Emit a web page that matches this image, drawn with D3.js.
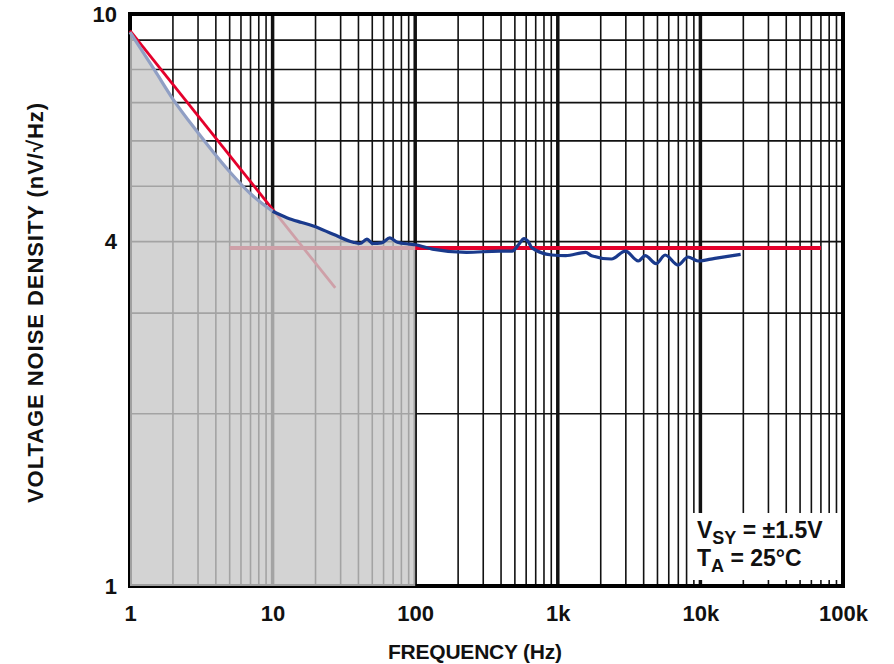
<!DOCTYPE html>
<html>
<head>
<meta charset="utf-8">
<script src="https://cdn.jsdelivr.net/npm/d3@7"></script>
<style>
  body { margin: 0; background: #fff; }
  text { font-family: "Liberation Sans", Arial, sans-serif; font-weight: bold; fill: #111; }
</style>
</head>
<body>
<div id="chart"></div>
<script>
// tick labels
var freqTicks = [1, 10, 100, 1000, 10000, 100000];
var freqTickLabels = ["1", "10", "100", "1k", "10k", "100k"];
var noiseTicks = [1, 4, 10];
var noiseTickLabels = ["1", "4", "10"];

// measured noise curve (Hz, nV/rtHz)
var noiseFreq = [1, 1.5, 2, 3, 5, 7, 10, 12.7, 16, 19.3, 26.6, 36.7, 41, 45.9, 50.5, 58, 66.4, 75, 91.5, 100,
  132, 229, 388, 478, 530, 580, 620, 659, 908, 1137, 1567, 1726, 2378, 2978, 3667, 4102, 4894, 5657, 6970,
  8183, 9613, 12620, 19150];
var noiseVal = [9.3, 7.95, 7.1, 6.2, 5.3, 4.85, 4.52, 4.40, 4.32, 4.26, 4.12, 3.99, 3.97, 4.04, 3.97, 3.98, 4.06, 3.99, 3.96, 3.95,
  3.88, 3.83, 3.85, 3.85, 3.95, 4.05, 4.0, 3.90, 3.79, 3.78, 3.83, 3.78, 3.73, 3.85, 3.70, 3.78, 3.66, 3.79, 3.64,
  3.76, 3.70, 3.74, 3.80];

// 1/f asymptote and white noise level
var fitFreq = [1, 27.5];
var fitVal = [9.35, 3.32];
var flatFreq = [5, 70000];
var flatVal = [3.9, 3.9];

// shaded band upper frequency
var shadeMaxFreq = 100;

var legendLines = [["V", "SY", " = \u00b11.5V"], ["T", "A", " = 25\u00b0C"]];

function draw_noise_chart(chartId)
{
let width = 894, height = 664;
let margin = {top: 14, right: 51, bottom: 78, left: 130};

let svg = d3.select(`#${chartId}`)
  .append("svg")
  .attr("width", width)
  .attr("height", height);

var x = d3.scaleLog().domain([1, 100000]).range([margin.left, width - margin.right]);
var y = d3.scaleLog().domain([1, 10]).range([height - margin.bottom, margin.top]);

let decades = freqTicks;

// vertical grid
svg.append("g")
  .selectAll("line")
  .data(x.ticks())
  .enter()
  .append("line")
  .attr("x1", d => x(d)).attr("x2", d => x(d))
  .attr("y1", y(10)).attr("y2", y(1))
  .attr("stroke", "#111")
  .attr("stroke-width", d => decades.indexOf(d) >= 0 ? 3.5 : 1.6);

// horizontal grid
svg.append("g")
  .selectAll("line")
  .data(y.ticks())
  .enter()
  .append("line")
  .attr("x1", x(1)).attr("x2", x(100000))
  .attr("y1", d => y(d)).attr("y2", d => y(d))
  .attr("stroke", "#111")
  .attr("stroke-width", 1.6);

// legend box blanks the grid
svg.append("rect")
  .attr("x", 692).attr("y", 513)
  .attr("width", x(100000) - 692).attr("height", 67)
  .attr("fill", "#fff");

// frame
svg.append("rect")
  .attr("x", x(1)).attr("y", y(10))
  .attr("width", x(100000) - x(1))
  .attr("height", y(1) - y(10))
  .attr("fill", "none")
  .attr("stroke", "#000")
  .attr("stroke-width", 4);

let pts = noiseFreq.map((f, i) => [f, noiseVal[i]]);

let line = d3.line()
  .x(d => x(d[0]))
  .y(d => y(d[1]))
  .curve(d3.curveMonotoneX);

// asymptotes
svg.append("path")
  .datum(fitFreq.map((f, i) => [f, fitVal[i]]))
  .attr("d", d3.line().x(d => x(d[0])).y(d => y(d[1])))
  .attr("fill", "none")
  .attr("stroke", "#e4002b")
  .attr("stroke-width", 2.8);

svg.append("path")
  .datum(flatFreq.map((f, i) => [f, flatVal[i]]))
  .attr("d", d3.line().x(d => x(d[0])).y(d => y(d[1])))
  .attr("fill", "none")
  .attr("stroke", "#e4002b")
  .attr("stroke-width", 4);

// shaded area under the curve
let area = d3.area()
  .x(d => x(d[0]))
  .y0(y(1))
  .y1(d => y(d[1]))
  .curve(d3.curveMonotoneX);

svg.append("path")
  .datum(pts.filter(d => d[0] <= shadeMaxFreq))
  .attr("d", area)
  .attr("fill", "#c8c8c8")
  .attr("fill-opacity", 0.8);

// low part of the curve looks faded through the shading
svg.append("path")
  .datum(pts.filter(d => d[0] <= 10))
  .attr("d", line)
  .attr("fill", "none")
  .attr("stroke", "#909fc4")
  .attr("stroke-width", 3.2);

svg.append("path")
  .datum(pts.filter(d => d[0] >= 10))
  .attr("d", line)
  .attr("fill", "none")
  .attr("stroke", "#1a3a8c")
  .attr("stroke-width", 3.2)
  .attr("stroke-linejoin", "round");

// axes
let xAxis = svg.append("g")
  .attr("transform", "translate(0," + y(1) + ")")
  .call(d3.axisBottom(x).tickValues(freqTicks).tickFormat((d, i) => freqTickLabels[i]).tickSize(0).tickPadding(19));
xAxis.select(".domain").remove();
xAxis.selectAll("text").attr("font-size", 22).style("font-family", "Liberation Sans, Arial").style("font-weight", "bold").attr("fill", "#111");

let yAxis = svg.append("g")
  .attr("transform", "translate(" + x(1) + ",0)")
  .call(d3.axisLeft(y).tickValues(noiseTicks).tickFormat((d, i) => noiseTickLabels[i]).tickSize(0).tickPadding(13));
yAxis.select(".domain").remove();
yAxis.selectAll("text").attr("font-size", 22).style("font-family", "Liberation Sans, Arial").style("font-weight", "bold").attr("fill", "#111");

// titles
svg.append("text")
  .attr("x", 475).attr("y", 659)
  .attr("text-anchor", "middle")
  .attr("font-size", 21)
  .attr("textLength", 174)
  .text("FREQUENCY (Hz)");

svg.append("text")
  .attr("transform", "translate(43,303) rotate(-90)")
  .attr("text-anchor", "middle")
  .attr("font-size", 22)
  .attr("textLength", 400)
  .text("VOLTAGE NOISE DENSITY (nV/\u221aHz)");

// conditions
legendLines.forEach(function (l, i) {
  let t = svg.append("text")
    .attr("x", 697).attr("y", 538 + i * 28)
    .attr("font-size", 23);
  t.append("tspan").text(l[0]);
  t.append("tspan").attr("dy", 6).attr("font-size", 18).text(l[1]);
  t.append("tspan").attr("dy", -6).text(l[2]);
});
}

draw_noise_chart("chart");
</script>
</body>
</html>
